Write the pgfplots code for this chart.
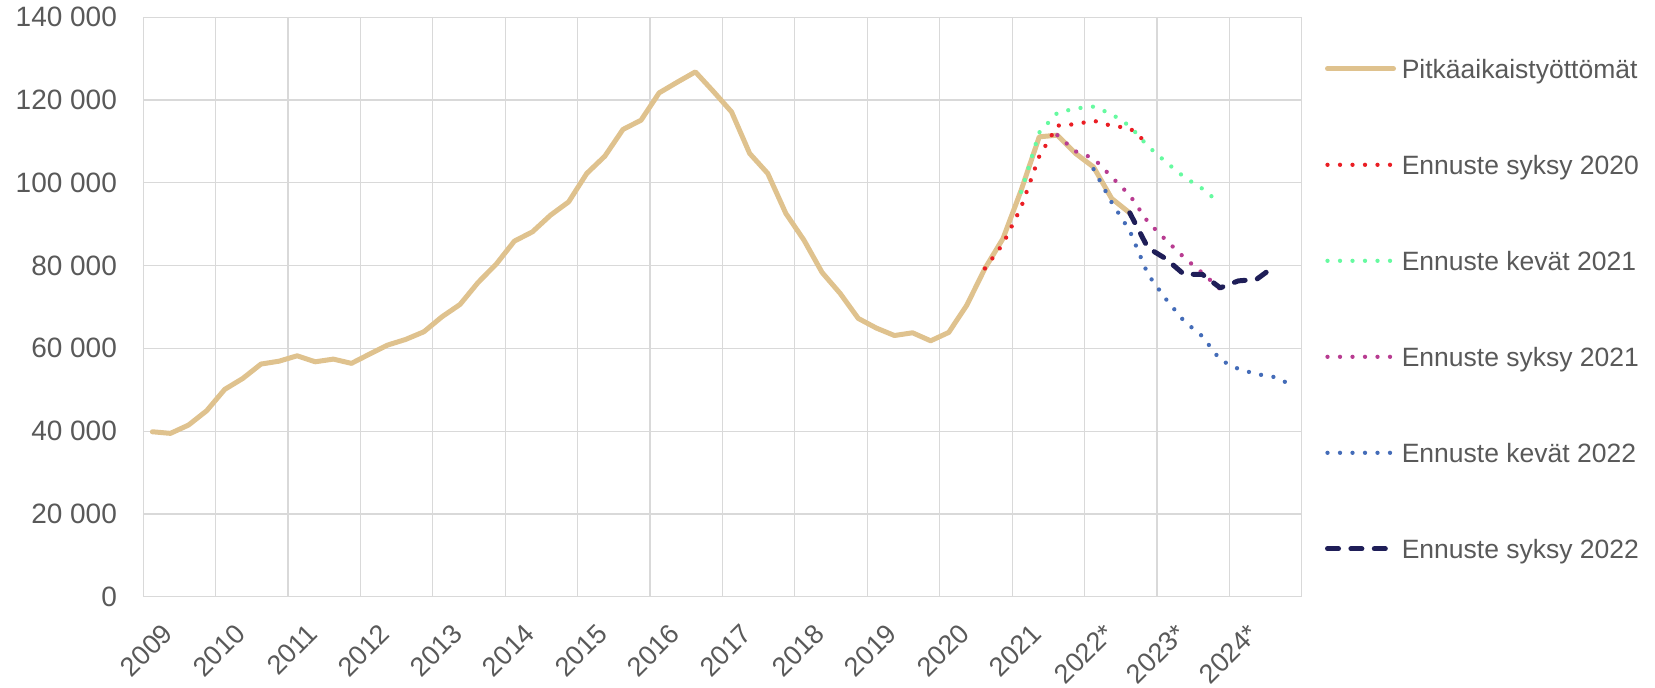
\documentclass[border=0pt]{standalone}
\usepackage{pgfplots}
\pgfplotsset{compat=1.18}
\usepackage{fontspec}
\setmainfont{Liberation Sans}

\definecolor{tanline}{RGB}{223,194,142}
\definecolor{redline}{RGB}{234,30,36}
\definecolor{greenline}{RGB}{102,250,160}
\definecolor{magline}{RGB}{184,60,145}
\definecolor{blueline}{RGB}{68,108,184}
\definecolor{navyline}{RGB}{31,30,88}
\definecolor{gridgray}{RGB}{217,217,217}
\definecolor{labelgray}{RGB}{89,89,89}

% quarterly data, x = year + quarter centre
\pgfplotstableread{
x y
2009.125 39850
2009.375 39460
2009.625 41470
2009.875 44920
2010.125 50090
2010.375 52740
2010.625 56200
2010.875 56900
2011.125 58200
2011.375 56750
2011.625 57400
2011.875 56370
2012.125 58610
2012.375 60790
2012.625 62160
2012.875 64000
2013.125 67620
2013.375 70610
2013.625 75930
2013.875 80350
2014.125 85900
2014.375 88150
2014.625 92180
2014.875 95390
2015.125 102250
2015.375 106430
2015.625 112880
2015.875 115120
2016.125 121720
2016.375 124300
2016.625 126790
2016.875 122050
2017.125 117130
2017.375 107080
2017.625 102250
2017.875 92590
2018.125 86140
2018.375 78340
2018.625 73270
2018.875 67230
2019.125 64900
2019.375 63100
2019.625 63760
2019.875 61820
2020.125 63850
2020.375 70450
2020.625 79310
2020.875 86550
2021.125 98200
2021.375 111100
2021.625 111500
2021.875 107100
2022.125 103800
2022.375 96200
2022.625 92700
}\actual

\pgfplotstableread{
x y
2020.625 79300
2020.875 85250
2021.125 94100
2021.375 106400
2021.625 113800
2021.875 114150
2022.125 115000
2022.375 113750
2022.625 113200
2022.875 109400
}\syksyA

\pgfplotstableread{
x y
2021.125 97800
2021.375 112150
2021.625 116900
2021.875 117950
2022.125 118400
2022.375 116600
2022.625 113700
2022.875 108850
2023.125 105000
2023.375 101400
2023.625 98600
2023.875 95000
}\kevatB

\pgfplotstableread{
x y
2021.625 111500
2021.875 107600
2022.125 105900
2022.375 101400
2022.625 97000
2022.875 90560
2023.125 86150
2023.375 81960
2023.625 78250
2023.875 74300
}\syksyB

\pgfplotstableread{
x y
2022.125 103300
2022.375 95250
2022.625 88400
2022.875 77900
2023.125 71890
2023.375 66580
2023.625 62960
2023.875 57200
2024.125 55040
2024.375 53780
2024.625 53060
2024.875 51050
}\kevatC

\pgfplotstableread{
x y
2022.625 92740
2022.875 84290
2023.125 81630
2023.375 77860
2023.625 77900
2023.875 74620
2024.125 76300
2024.375 76650
2024.625 79870
}\syksyC

\begin{document}
\begin{tikzpicture}
\useasboundingbox (0,0) rectangle (827.5pt,343.5pt);
\begin{axis}[
  at={(71.65pt,45.15pt)}, anchor=south west,
  scale only axis, width=579.2pt, height=289.75pt,
  xmin=2009, xmax=2025, ymin=0, ymax=140000,
  xtick={2009,2010,...,2024},
  xticklabels={2009,2010,2011,2012,2013,2014,2015,2016,2017,2018,2019,2020,2021,2022*,2023*,2024*},
  ytick={0,20000,40000,60000,80000,100000,120000,140000},
  yticklabels={0,20 000,40 000,60 000,80 000,100 000,120 000,140 000},
  scaled y ticks=false,
  grid=major,
  major grid style={draw=gridgray, line width=0.6pt},
  axis line style={draw=gridgray, line width=0.6pt},
  major tick length=0pt,
  ticklabel style={text=labelgray},
  yticklabel style={font=\fontsize{14}{16}\selectfont, anchor=east, inner sep=0pt, xshift=-13pt},
  xticklabel style={font=\fontsize{13.5}{15}\selectfont, inner sep=0pt, xshift=12.35pt, yshift=-16pt, rotate=45, anchor=east},
  legend image code/.code={\draw[#1] (1.25pt,0pt) -- (34.25pt,0pt);},
  legend cell align=left,
  legend style={at={(axis description cs:1,1)}, anchor=north west,
    xshift=11.65pt, yshift=-21.05pt, draw=none, fill=none,
    inner sep=0pt, outer sep=0pt, row sep=38.5pt,
    font=\fontsize{13.25}{15}\selectfont, text=labelgray,
    nodes={inner sep=0pt, text height=9.5pt, text depth=0pt},
    /tikz/every odd column/.style={column sep=2.9pt}},
]
\addplot[tanline, mark=none, line width=2.5pt, line join=round, line cap=round] table {\actual};
\addlegendentry{Pitkäaikaistyöttömät}
\addplot[redline, mark=none, line width=2.15pt, line cap=round, dash pattern=on 0pt off 6.25pt] table {\syksyA};
\addlegendentry{Ennuste syksy 2020}
\addplot[greenline, mark=none, line width=2.15pt, line cap=round, dash pattern=on 0pt off 6.25pt] table {\kevatB};
\addlegendentry{Ennuste kevät 2021}
\addplot[magline, mark=none, line width=2.15pt, line cap=round, dash pattern=on 0pt off 6.25pt] table {\syksyB};
\addlegendentry{Ennuste syksy 2021}
\addplot[blueline, mark=none, line width=2.15pt, line cap=round, dash pattern=on 0pt off 6.25pt] table {\kevatC};
\addlegendentry{Ennuste kevät 2022}
\addplot[navyline, mark=none, line width=2.5pt, line cap=round, line join=round, dash pattern=on 5.5pt off 6.2pt] table {\syksyC};
\addlegendentry{Ennuste syksy 2022}
\end{axis}
\end{tikzpicture}
\end{document}
